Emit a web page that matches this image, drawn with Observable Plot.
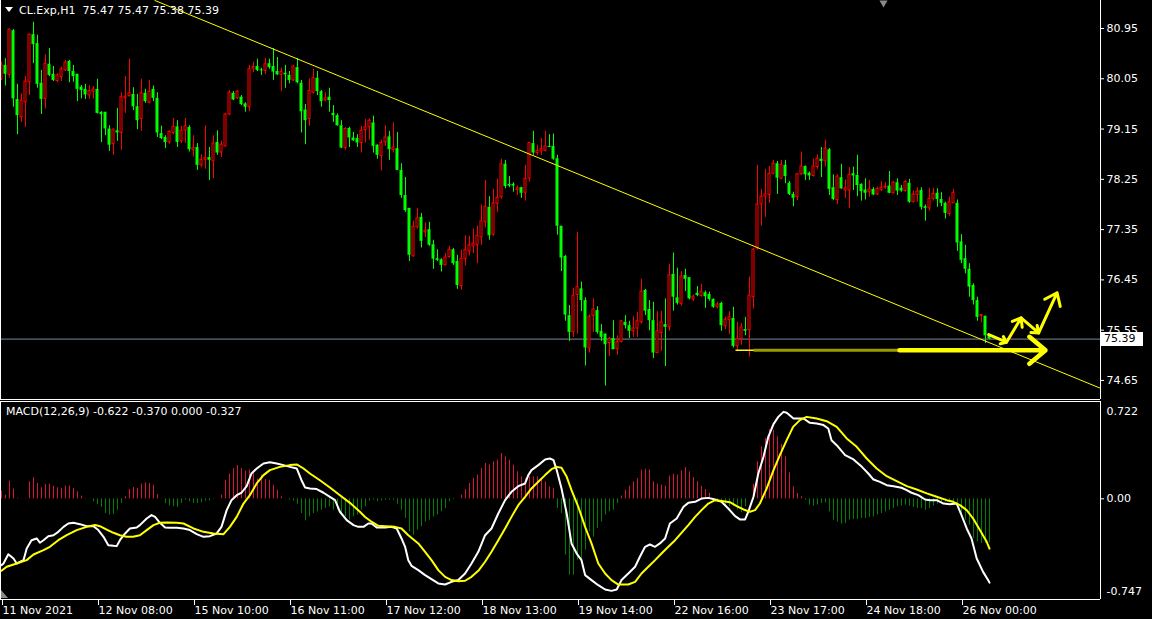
<!DOCTYPE html>
<html><head><meta charset="utf-8">
<script src="https://cdn.jsdelivr.net/npm/d3@7"></script>
<script src="https://cdn.jsdelivr.net/npm/@observablehq/plot@0.6"></script>
<style>
html,body{margin:0;padding:0;background:#000;overflow:hidden;}
#wrap{position:relative;width:1152px;height:619px;background:#000;}
#wrap svg{display:block;}
.ov{position:absolute;color:#fff;font:11px "DejaVu Sans";white-space:pre;line-height:13px;}
</style></head><body>
<div id="wrap"></div>
<script>
// ---------------- DATA ----------------
const symbolTitle = "CL.Exp,H1  75.47 75.47 75.38 75.39";
const macdTitle = "MACD(12,26,9) -0.622 -0.370 0.000 -0.327";
const opens = [80.05,80.29,80.12,80.91,79.68,79.36,79.63,79.99,80.84,80.68,79.97,79.69,80.31,80.13,80.01,80.08,80.20,80.36,80.18,80.13,79.90,79.86,79.75,79.82,79.86,79.45,79.45,79.15,78.88,79.12,79.08,79.70,79.74,79.77,79.55,79.33,79.79,79.62,79.86,79.70,79.07,79.00,78.91,79.08,79.19,78.93,79.12,79.18,78.77,78.82,78.50,78.60,78.64,78.57,78.91,78.73,78.84,79.41,79.79,79.70,79.72,79.60,79.54,80.23,80.27,80.21,80.19,80.32,80.27,80.18,80.12,80.15,80.11,80.02,80.25,79.97,79.49,79.33,79.80,80.06,79.82,79.66,79.72,79.43,79.39,79.21,78.81,79.16,78.99,78.98,78.90,79.13,79.18,79.26,78.86,78.67,78.91,79.01,78.77,78.80,78.41,77.96,77.73,76.87,77.39,77.57,77.30,77.35,77.08,76.83,76.81,76.71,76.86,76.99,76.78,76.34,76.82,76.96,77.05,77.07,77.21,77.48,77.75,77.26,77.81,77.93,78.52,78.16,78.16,78.06,78.10,78.01,78.26,78.89,78.72,78.75,78.76,78.84,78.84,78.62,77.41,76.87,75.81,75.51,76.18,76.29,76.08,75.22,75.80,75.90,75.53,75.48,75.32,75.40,75.21,75.34,75.69,75.63,75.53,75.58,75.69,76.26,75.92,75.72,75.14,75.50,75.65,75.60,76.55,76.13,76.02,76.53,76.49,76.10,76.21,76.16,76.22,76.19,76.10,75.96,76.03,75.62,75.73,75.76,75.26,75.39,75.56,75.55,76.14,77.01,77.80,77.94,77.97,78.35,78.53,78.26,78.50,78.18,77.98,77.93,78.34,78.48,78.36,78.31,78.47,78.61,78.57,78.78,78.10,77.88,78.28,78.05,78.05,78.35,78.32,78.16,78.06,78.02,78.07,77.98,78.06,78.10,78.13,78.00,78.19,78.09,78.04,78.18,77.84,77.97,78.05,77.76,77.73,77.90,78.00,77.89,77.82,77.63,77.82,77.82,77.13,76.83,76.64,76.35,76.08,75.80,75.80,75.47];
const highs = [80.35,80.41,80.94,80.93,79.95,79.78,80.09,80.85,81.06,80.83,80.20,80.48,80.59,80.27,80.14,80.26,80.38,80.38,80.29,80.13,79.93,79.95,79.93,79.91,80.04,79.46,79.45,79.21,79.15,79.52,79.80,80.09,80.40,79.89,79.77,80.04,79.86,80.02,79.92,79.80,79.20,79.03,79.12,79.34,79.30,79.20,79.34,79.21,79.03,78.89,78.69,79.21,78.82,79.03,79.12,78.93,79.43,79.84,79.82,79.84,79.75,79.62,80.29,80.35,80.40,80.24,80.42,80.40,80.59,80.43,80.24,80.29,80.18,80.29,80.41,80.02,79.59,80.05,80.22,80.18,79.84,79.80,79.88,79.57,79.42,79.30,79.18,79.18,79.09,79.05,79.20,79.32,79.33,79.38,78.87,78.95,79.21,79.11,79.26,79.09,78.53,78.28,77.73,77.50,77.73,77.64,77.47,77.48,77.16,76.99,76.83,76.92,77.05,77.01,76.89,76.98,77.24,77.23,77.36,77.41,77.79,78.23,77.94,78.07,78.25,78.61,78.59,78.30,78.19,78.13,78.11,78.50,78.91,79.11,78.86,78.98,79.11,79.05,79.06,78.68,77.41,76.89,75.99,76.30,77.30,76.41,76.13,75.82,76.11,75.97,75.65,75.48,75.42,75.72,75.45,75.72,75.81,75.71,75.79,75.87,76.46,76.28,76.08,76.05,75.88,75.89,76.11,76.73,76.93,76.66,76.60,76.64,76.49,76.18,76.33,76.37,76.25,76.23,76.11,76.05,76.05,75.78,75.88,75.96,75.69,75.67,75.78,76.50,77.01,78.50,78.07,78.43,78.48,78.59,78.57,78.59,78.59,78.21,78.02,78.35,78.74,78.49,78.38,78.61,78.69,78.82,78.95,78.80,78.33,78.33,78.52,78.24,78.46,78.47,78.68,78.17,78.26,78.23,78.10,78.11,78.21,78.19,78.39,78.21,78.26,78.14,78.23,78.25,78.04,78.10,78.10,77.79,78.09,78.09,78.08,78.01,77.84,77.93,78.07,77.88,77.26,77.07,76.74,76.38,76.14,75.83,75.80,75.47];
const lows = [80.02,79.92,80.06,79.54,79.05,79.27,79.18,79.75,80.32,79.88,79.41,79.51,80.09,80.00,79.98,80.00,80.18,79.98,79.99,79.64,79.69,79.68,79.68,79.69,79.42,78.91,79.03,78.75,78.68,78.93,78.77,79.43,79.72,79.48,79.14,79.11,79.61,79.60,79.64,79.00,78.96,78.80,78.88,79.05,78.82,78.89,78.89,78.74,78.65,78.41,78.46,78.43,78.23,78.26,78.68,78.64,78.83,79.39,79.66,79.68,79.57,79.45,79.46,80.16,80.18,80.11,80.12,80.22,80.02,80.11,79.82,79.88,79.96,80.00,79.96,79.08,78.87,79.20,79.78,79.75,79.54,79.64,79.45,79.27,79.20,78.80,78.77,78.82,78.93,78.82,78.72,78.90,78.95,78.72,78.61,78.40,78.84,78.59,78.72,78.41,77.91,77.66,76.78,76.86,77.36,77.02,77.21,77.05,76.64,76.78,76.59,76.71,76.84,76.71,76.28,76.26,76.70,76.88,76.92,76.74,77.07,77.38,77.16,77.23,77.66,77.89,78.08,78.10,78.02,77.96,77.91,77.86,78.20,78.68,78.68,78.68,78.74,78.82,78.59,77.25,76.60,75.71,75.35,75.42,75.48,75.88,74.91,75.14,75.51,75.48,75.35,74.55,75.08,75.20,75.10,75.32,75.57,75.40,75.42,75.42,75.66,75.81,75.54,75.04,75.14,75.17,74.90,75.53,75.89,76.00,75.98,76.24,76.09,76.06,76.15,76.14,75.94,76.07,75.94,75.93,75.53,75.56,75.47,75.23,75.19,75.28,75.45,75.07,75.93,76.98,77.41,77.57,77.82,78.33,77.98,78.25,78.17,77.96,77.76,77.87,78.32,78.23,78.23,78.29,78.43,78.28,78.47,77.96,77.87,77.80,78.07,77.91,77.73,78.05,77.94,77.86,77.88,77.93,77.96,77.96,78.03,78.07,77.99,77.99,77.96,78.02,78.02,77.82,77.83,77.84,77.70,77.50,77.68,77.86,77.75,77.76,77.54,77.59,77.82,76.96,76.74,76.56,76.14,76.00,75.71,75.68,75.31,75.38];
const closes = [80.29,80.13,80.93,79.69,79.39,79.66,80.00,80.84,80.66,79.95,79.68,80.32,80.11,80.02,80.11,80.22,80.34,80.18,80.09,79.86,79.84,79.76,79.83,79.86,79.43,79.41,79.15,78.86,79.14,79.08,79.72,79.73,79.79,79.55,79.30,79.79,79.64,79.82,79.70,79.08,78.98,78.91,79.10,79.19,78.91,79.12,79.20,78.78,78.81,78.50,78.60,78.63,78.59,78.89,78.72,78.87,79.41,79.80,79.67,79.82,79.59,79.54,80.22,80.26,80.20,80.19,80.31,80.25,80.17,80.12,80.17,80.12,80.02,80.27,79.98,79.46,79.30,79.83,80.06,79.82,79.64,79.70,79.66,79.39,79.21,78.81,79.15,78.99,78.94,78.90,79.12,79.18,79.30,78.84,78.68,78.90,79.00,78.78,78.82,78.41,77.96,77.69,76.89,77.40,77.55,77.14,77.33,77.07,76.82,76.80,76.71,76.85,76.99,76.74,76.35,76.83,76.99,77.07,77.10,77.24,77.50,77.76,77.24,77.82,77.92,78.52,78.12,78.13,78.13,78.09,78.00,78.26,78.90,78.72,78.76,78.79,78.84,78.82,78.61,77.41,76.84,75.82,75.51,76.17,76.32,76.08,75.23,75.79,75.92,75.51,75.42,75.29,75.39,75.20,75.34,75.71,75.63,75.53,75.58,75.71,76.24,75.89,75.72,75.14,75.53,75.69,75.60,76.53,76.14,76.03,76.51,76.46,76.11,76.15,76.17,76.24,76.15,76.10,75.96,76.01,75.63,75.74,75.78,75.26,75.39,75.60,75.53,76.17,76.99,77.80,77.94,77.98,78.35,78.53,78.27,78.51,78.30,77.98,77.91,78.34,78.48,78.33,78.31,78.48,78.62,78.57,78.80,78.07,77.89,78.30,78.08,78.09,78.33,78.31,78.14,78.03,78.00,78.07,77.97,78.08,78.10,78.12,78.00,78.19,78.04,78.04,78.20,77.84,77.98,78.03,77.75,77.73,77.90,77.99,77.89,77.82,77.64,77.84,78.01,77.11,76.80,76.64,76.32,76.08,75.78,75.82,75.45,75.39];
const lastPrice = 75.39;
const priceTicks = [80.95, 80.05, 79.15, 78.25, 77.35, 76.45, 75.55, 74.65];
const dateTickBars = [0, 24, 48, 72, 96, 120, 144, 168, 192, 216, 240];
const dateTickLabels = ["11 Nov 2021","12 Nov 08:00","15 Nov 10:00","16 Nov 11:00","17 Nov 12:00","18 Nov 13:00","19 Nov 14:00","22 Nov 16:00","23 Nov 17:00","24 Nov 18:00","26 Nov 00:00"];
// trend line drawn on the chart [bar, price]
const trendLine = [[38.35, 81.451], [274.75, 74.51]];
// support arrow [bar from, bar to, price]
const supportArrow = [183.5, 261, 75.19];
// zig-zag forecast arrows [bar1, price1, bar2, price2]
const zigzagArrows = [[246.8,75.47,251.25,75.335],[251.25,75.335,254.9,75.77],[254.9,75.77,259.3,75.50],[259.3,75.50,263.9,76.22]];
// MACD main line [bar, value]
const macdLine = [[0,-0.492],[0.5,-0.480],[1.7,-0.411],[3,-0.443],[3.8,-0.480],[5.5,-0.455],[6.3,-0.368],[7.5,-0.307],[8.8,-0.294],[9.6,-0.326],[10.5,-0.307],[11.7,-0.277],[13,-0.270],[14.2,-0.245],[15.5,-0.208],[16.7,-0.183],[18,-0.178],[19.6,-0.188],[21.3,-0.203],[23,-0.203],[24.2,-0.232],[25.5,-0.282],[26.7,-0.344],[28,-0.349],[28.8,-0.351],[29.6,-0.307],[30.9,-0.257],[32.1,-0.220],[33.8,-0.213],[34.6,-0.195],[36.3,-0.146],[37.5,-0.121],[38.4,-0.134],[39.6,-0.178],[40.9,-0.213],[42.1,-0.215],[43.8,-0.215],[45.5,-0.220],[47.1,-0.232],[48.8,-0.262],[50.5,-0.282],[52.1,-0.277],[53.8,-0.257],[55,-0.208],[56.3,-0.084],[57.5,-0.010],[58.8,0.027],[60,0.045],[61.3,0.094],[62.5,0.188],[63.8,0.225],[65.5,0.262],[67.1,0.272],[68.8,0.262],[70.5,0.250],[72.1,0.237],[73.8,0.225],[75,0.138],[75.9,0.084],[77.1,0.077],[78.8,0.072],[80.5,0.045],[82.1,0.015],[83.4,-0.010],[84.6,-0.096],[86.3,-0.158],[88,-0.195],[89.2,-0.208],[90.5,-0.208],[91.7,-0.183],[92.5,-0.183],[93.8,-0.213],[95.9,-0.213],[97.5,-0.208],[98.8,-0.220],[100,-0.294],[100.9,-0.356],[101.7,-0.455],[102.5,-0.497],[104.2,-0.529],[105.9,-0.566],[107.5,-0.596],[109.2,-0.628],[110.9,-0.636],[112.5,-0.616],[114.2,-0.603],[115.9,-0.554],[117.5,-0.480],[119.2,-0.393],[120.9,-0.270],[122.5,-0.220],[124.2,-0.109],[125.9,-0.010],[127.5,0.052],[129.2,0.094],[130.9,0.114],[131.7,0.176],[132.5,0.213],[134.2,0.250],[135.9,0.292],[137.1,0.299],[138,0.287],[138.8,0.213],[140,0.077],[141.3,-0.109],[142.5,-0.331],[143.8,-0.406],[145,-0.455],[145.9,-0.566],[147.5,-0.603],[149.2,-0.641],[150.9,-0.673],[152.5,-0.683],[153.8,-0.673],[155,-0.603],[156.7,-0.554],[158.4,-0.504],[159.6,-0.430],[160.9,-0.356],[162.1,-0.339],[163.4,-0.356],[164.6,-0.331],[165.9,-0.294],[167.1,-0.183],[168.8,-0.146],[170.5,-0.059],[171.7,-0.030],[173.4,-0.022],[175,0.002],[176.7,0.007],[178.4,-0.005],[180,-0.022],[181.7,-0.072],[183.4,-0.129],[184.6,-0.153],[185.9,-0.153],[186.7,-0.096],[188,0.015],[189.2,0.188],[190.5,0.312],[191.7,0.460],[193,0.554],[194.2,0.608],[195.5,0.645],[196.3,0.638],[198,0.596],[199.2,0.596],[200.5,0.596],[202.1,0.564],[203.8,0.559],[205.5,0.547],[206.7,0.522],[207.5,0.435],[208.8,0.398],[210.9,0.324],[213,0.292],[215.1,0.237],[216.7,0.188],[218,0.143],[219.6,0.126],[221.3,0.101],[223,0.094],[225,0.082],[226.3,0.064],[227.5,0.045],[229.2,0.027],[230.9,-0.005],[232.1,-0.010],[233.8,-0.010],[235.5,-0.035],[237.1,-0.040],[238.8,-0.035],[240,-0.121],[241.3,-0.220],[242.5,-0.294],[243.8,-0.443],[245.4,-0.542],[246.9,-0.616],[247,-0.622]];
// MACD signal line [bar, value]
const signalLine = [[0,-0.534],[1.3,-0.504],[3.8,-0.480],[6.3,-0.455],[8,-0.413],[10.5,-0.381],[12.1,-0.356],[14.2,-0.307],[16.3,-0.270],[18.8,-0.232],[21.3,-0.208],[23.4,-0.195],[24.6,-0.203],[26.3,-0.228],[28,-0.252],[29.6,-0.270],[31.3,-0.282],[32.9,-0.282],[34.6,-0.270],[36.3,-0.232],[38,-0.195],[39.6,-0.178],[41.3,-0.176],[43.8,-0.178],[45.5,-0.183],[48,-0.220],[50.5,-0.245],[53,-0.257],[55.5,-0.262],[57.1,-0.208],[58.8,-0.134],[60.5,-0.035],[62.1,0.027],[63.8,0.114],[65.5,0.176],[67.1,0.213],[69.6,0.237],[72.1,0.250],[73.8,0.255],[75.5,0.225],[77.1,0.188],[79.6,0.138],[82.1,0.084],[84.6,0.027],[87.1,-0.030],[89.6,-0.096],[90.9,-0.135],[92.5,-0.170],[94.2,-0.200],[95.9,-0.203],[98.4,-0.208],[100,-0.220],[101.7,-0.270],[104.2,-0.331],[105.9,-0.393],[107.5,-0.455],[109.2,-0.529],[110.9,-0.579],[112.5,-0.603],[114.2,-0.611],[115.9,-0.608],[117.5,-0.579],[119.2,-0.534],[120.9,-0.467],[122.5,-0.393],[124.2,-0.307],[125.9,-0.220],[127.5,-0.134],[129.2,-0.047],[130.9,0.015],[132.5,0.077],[134.2,0.126],[135.9,0.176],[137.5,0.220],[138.8,0.237],[140,0.230],[141.3,0.163],[142.5,0.064],[144.2,-0.059],[145.9,-0.208],[147.5,-0.331],[149.2,-0.480],[150.9,-0.554],[152.5,-0.603],[154.2,-0.636],[156.7,-0.636],[158.4,-0.616],[160,-0.554],[161.7,-0.504],[163.4,-0.455],[165,-0.406],[166.7,-0.356],[168.4,-0.307],[170,-0.252],[171.7,-0.195],[173.4,-0.134],[175,-0.084],[176.7,-0.035],[178.4,-0.010],[180,-0.017],[182.1,-0.025],[183.8,-0.054],[185.5,-0.079],[187.1,-0.096],[188.4,-0.084],[189.6,-0.035],[191.3,0.077],[193,0.213],[194.6,0.324],[196.3,0.435],[197.9,0.534],[199.6,0.584],[201.3,0.608],[203.8,0.596],[206.3,0.576],[208.8,0.534],[211.3,0.448],[213.8,0.386],[216.3,0.299],[218.8,0.225],[221.3,0.168],[223.8,0.131],[226.3,0.094],[228.8,0.069],[231.3,0.040],[233.8,0.015],[236.3,-0.010],[237.9,-0.022],[239.6,-0.047],[241.3,-0.084],[242.9,-0.146],[244.6,-0.232],[246.3,-0.319],[247,-0.370]];
// MACD histogram, one value per bar
const histogram = [0.057,0.027,0.131,0.072,0.005,0.002,0.002,0.126,0.156,0.114,
0.082,0.106,0.109,0.094,0.082,0.077,0.094,0.094,0.077,0.052,
0.020,0.002,-0.002,-0.022,-0.042,-0.064,-0.109,-0.121,-0.116,-0.084,
-0.035,0.015,0.069,0.084,0.077,0.109,0.119,0.114,0.101,0.032,
-0.002,-0.035,-0.054,-0.059,-0.064,-0.035,-0.010,-0.022,-0.035,-0.035,
-0.027,-0.017,-0.015,-0.002,0.000,0.027,0.138,0.183,0.225,0.247,
0.225,0.205,0.213,0.188,0.146,0.176,0.143,0.138,0.101,0.064,
0.015,-0.002,-0.010,-0.017,-0.040,-0.109,-0.163,-0.134,-0.109,-0.096,
-0.084,-0.072,-0.059,-0.084,-0.084,-0.121,-0.134,-0.158,-0.134,-0.121,
-0.084,-0.059,-0.017,-0.010,-0.022,-0.015,-0.010,-0.010,-0.010,-0.040,
-0.084,-0.146,-0.245,-0.270,-0.232,-0.208,-0.171,-0.158,-0.134,-0.121,
-0.096,-0.072,-0.022,-0.005,0.000,0.027,0.069,0.114,0.151,0.176,
0.225,0.262,0.250,0.275,0.287,0.336,0.312,0.287,0.250,0.200,
0.163,0.151,0.163,0.163,0.163,0.138,0.126,0.089,0.077,-0.072,
-0.109,-0.418,-0.566,-0.566,-0.455,-0.480,-0.381,-0.245,-0.284,-0.220,
-0.171,-0.121,-0.096,-0.084,-0.035,0.020,0.064,0.094,0.126,0.151,
0.213,0.220,0.213,0.126,0.109,0.101,0.094,0.168,0.183,0.176,
0.208,0.232,0.200,0.158,0.126,0.094,0.069,0.040,-0.005,-0.010,
-0.035,-0.047,-0.059,-0.059,-0.084,-0.104,-0.059,0.000,0.109,0.275,
0.386,0.448,0.514,0.509,0.460,0.403,0.312,0.193,0.089,0.040,
0.015,-0.010,-0.047,-0.054,-0.047,-0.035,-0.030,-0.096,-0.158,-0.171,
-0.188,-0.183,-0.158,-0.153,-0.153,-0.146,-0.146,-0.138,-0.134,-0.121,
-0.109,-0.096,-0.084,-0.072,-0.059,-0.054,-0.047,-0.054,-0.064,-0.072,
-0.072,-0.084,-0.072,-0.054,-0.040,-0.035,-0.022,-0.022,-0.022,-0.059,
-0.109,-0.158,-0.195,-0.294,-0.319,-0.331,-0.331,-0.327];
const macdTicks = [0.722, 0.0, -0.747];

// ---------------- BUILD ----------------
const xDomain = [-0.25, 274.75];
const priceDomain = [74.309, 81.451];
const macdDomain = [-0.747, 0.722];
const FONT = "DejaVu Sans";
const candles = opens.map((o, i) => ({i, o, h: highs[i], l: lows[i], c: closes[i]}));
const bulls = candles.filter(d => d.c >= d.o);
const bears = candles.filter(d => d.c < d.o);
const hist = histogram.map((v, i) => ({i, v}));
const markerTop = [{i: 220.5, p: 81.41}];

const main = Plot.plot({
  width: 1152, height: 400,
  marginLeft: 0, marginRight: 52, marginTop: 0, marginBottom: 1,
  style: {background: "#000", color: "#fff", fontFamily: FONT, fontSize: "11px"},
  x: {domain: xDomain, axis: null},
  y: {domain: priceDomain, axis: null},
  marks: [
    Plot.ruleY([lastPrice], {stroke: "#778899", strokeWidth: 1}),
    Plot.ruleX(bears, {x: "i", y1: "l", y2: "h", stroke: "#00ff00"}),
    Plot.ruleX(bulls, {x: "i", y1: "l", y2: "h", stroke: "#ff0000"}),
    Plot.rect(bears, {x1: d => d.i - 0.375, x2: d => d.i + 0.375, y1: "o", y2: "c", fill: "#00ff00"}),
    Plot.rect(bulls, {x1: d => d.i - 0.25, x2: d => d.i + 0.25, y1: "o", y2: "c", fill: "#000", stroke: "#ff0000", strokeWidth: 1}),
    Plot.line(trendLine, {x: d => d[0], y: d => d[1], stroke: "#ffff00", strokeWidth: 1, clip: true}),
    Plot.link([supportArrow], {x1: d => d[0], x2: d => d[1] - 1, y1: d => d[2], y2: d => d[2], stroke: "#ffff00", strokeWidth: 1.5}),
    Plot.link([supportArrow], {x1: d => d[0] + 4.5, x2: d => d[0] + 41, y1: d => d[2], y2: d => d[2], stroke: "#9a9a00", strokeWidth: 3}),
    Plot.arrow([supportArrow], {x1: d => d[0] + 41, x2: d => d[1], y1: d => d[2], y2: d => d[2], stroke: "#ffff00", strokeWidth: 4.5, headLength: 7, headAngle: 80}),
    Plot.arrow(zigzagArrows, {x1: d => d[0], y1: d => d[1], x2: d => d[2], y2: d => d[3], stroke: "#ffff00", strokeWidth: 3, headLength: 7, headAngle: 75}),
    Plot.dot(markerTop, {x: "i", y: "p", symbol: "triangle", rotate: 180, r: 3, fill: "#8a8a8a"}),
    Plot.ruleX([xDomain[1]], {stroke: "#fff"}),
    Plot.ruleX([xDomain[0]], {stroke: "#fff"}),
    Plot.ruleY([priceDomain[0]], {stroke: "#fff"}),
    Plot.axisY(priceTicks, {anchor: "right", tickSize: 3, tickPadding: 3, tickFormat: d => d.toFixed(2), stroke: "#fff", fill: "#fff", label: null})
  ]
});

const macd = Plot.plot({
  width: 1152, height: 219,
  marginLeft: 0, marginRight: 52, marginTop: 1, marginBottom: 20,
  style: {background: "#000", color: "#fff", fontFamily: FONT, fontSize: "11px"},
  x: {domain: xDomain, axis: null},
  y: {domain: macdDomain, axis: null},
  marks: [
    Plot.ruleX(hist.filter(d => d.v >= 0), {x: "i", y1: 0, y2: "v", stroke: "#dc143c"}),
    Plot.ruleX(hist.filter(d => d.v < 0), {x: "i", y1: 0, y2: "v", stroke: "#008000"}),
    Plot.line(macdLine, {x: d => d[0], y: d => d[1], stroke: "#ffffff", strokeWidth: 2}),
    Plot.line(signalLine, {x: d => d[0], y: d => d[1], stroke: "#ffff00", strokeWidth: 2}),
    Plot.ruleX([xDomain[1]], {stroke: "#fff"}),
    Plot.ruleX([xDomain[0]], {stroke: "#fff"}),
    Plot.ruleY([macdDomain[1]], {stroke: "#fff"}),
    Plot.ruleY([macdDomain[0]], {stroke: "#fff"}),
    Plot.axisY([0], {anchor: "right", tickSize: 3, tickPadding: 3, tickFormat: () => "0.00", stroke: "#fff", fill: "#fff", label: null}),
    Plot.text([macdTicks[0]], {x: xDomain[1], y: d => d, text: d => d.toFixed(3), dx: 6, dy: 10, textAnchor: "start", fill: "#fff"}),
    Plot.text([macdTicks[2]], {x: xDomain[1], y: d => d, text: d => d.toFixed(3), dx: 6, dy: -8, textAnchor: "start", fill: "#fff"}),
    Plot.axisX(dateTickBars, {anchor: "bottom", tickSize: 6, tickPadding: 1, tickFormat: (d) => dateTickLabels[dateTickBars.indexOf(d)], textAnchor: "start", dx: 1, stroke: "#fff", fill: "#fff", label: null})
  ]
});

const wrap = document.getElementById("wrap");
wrap.appendChild(main);
wrap.appendChild(macd);

// last price tag (positioned with the plot's own y scale)
const ys = main.scale("y");
const yy = ys.apply(lastPrice);
const sel = d3.select(main);
sel.append("rect").attr("x", 1101).attr("y", Math.round(yy) - 7).attr("width", 42).attr("height", 14).attr("fill", "#fff");
sel.append("text").attr("x", 1104).attr("y", yy).attr("dy", "0.35em").attr("fill", "#000")
  .attr("text-anchor", "start").attr("font-family", FONT).attr("font-size", 11).text(lastPrice.toFixed(2));

// bottom-left marker in MACD panel
d3.select(macd).append("path").attr("d", "M1,190 L1,198 L8,198 Z").attr("fill", "#8a8a8a");

// header overlays
const hdr = document.createElement("div");
hdr.className = "ov";
hdr.style.left = "4px"; hdr.style.top = "4px";
hdr.innerHTML = '<svg width="10" height="8" style="display:inline-block;vertical-align:0px;margin-right:5px"><path d="M1,1 L9,1 L5,6 Z" fill="#fff"/></svg>' + symbolTitle;
wrap.appendChild(hdr);
const mt = document.createElement("div");
mt.className = "ov";
mt.style.left = "6px"; mt.style.top = "405px";
mt.textContent = macdTitle;
wrap.appendChild(mt);
</script>
</body></html>
